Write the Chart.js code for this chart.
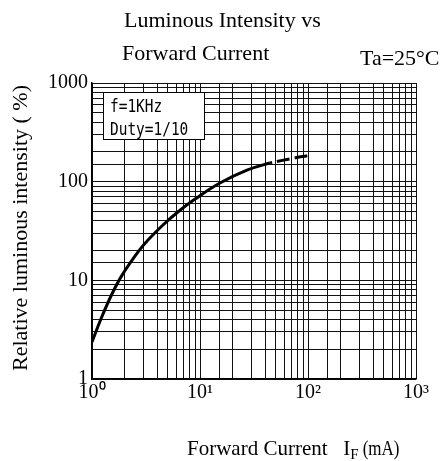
<!DOCTYPE html>
<html>
<head>
<meta charset="utf-8">
<script src="https://cdn.jsdelivr.net/npm/chart.js@4.4.1/dist/chart.umd.min.js"></script>
<style>
  body { margin: 0; background: #fff; }
  canvas { display: block; }
</style>
</head>
<body>
<canvas id="chart" width="448" height="461"></canvas>
<script>
// forward current (mA) vs relative luminous intensity (%)
const currents = [1, 1.21, 1.53, 1.9, 2.67, 3.3, 4.54, 6.4, 9.0, 15.3, 27.2, 44.5];
const intensity = [2.37, 4.06, 7.27, 11.3, 19.4, 25.6, 36.4, 50.4, 66.7, 96.9, 131, 155];
// dashed extension of the curve
const extCurrents = [44.5, 71, 100];
const extIntensity = [155, 172, 184];

const xLabels = {1: '10\u2070', 10: '10\u00b9', 100: '10\u00b2', 1000: '10\u00b3'};
const yLabels = {1: '1', 10: '10', 100: '100', 1000: '1000'};

const serif = "'Liberation Serif', 'Times New Roman', serif";

function toPoints(xs, ys) {
    return xs.map((x, i) => ({x: x, y: ys[i]}));
}

const textPlugin = {
    id: 'extraText',
    afterDraw(chart) {
        const ctx = chart.ctx;
        ctx.save();
        ctx.fillStyle = '#000';
        ctx.textBaseline = 'alphabetic';
        ctx.textAlign = 'left';

        ctx.font = '22px ' + serif;
        ctx.fillText('Luminous Intensity vs', 124, 27);
        ctx.fillText('Forward Current', 122, 60);
        ctx.fillText('Ta=25\u00b0C', 360, 65);

        // x axis title with subscript
        ctx.font = '21px ' + serif;
        let x = 187;
        const base = 455;
        const part1 = 'Forward Current   I';
        ctx.fillText(part1, x, base);
        x += ctx.measureText(part1).width;
        ctx.font = '15px ' + serif;
        ctx.fillText('F', x, base + 4);
        x += ctx.measureText('F').width + 4;
        ctx.save();
        ctx.translate(x, base);
        ctx.scale(0.85, 1);
        ctx.font = '20px ' + serif;
        ctx.fillText('(mA)', 0, 0);
        ctx.restore();

        // y axis title
        ctx.save();
        ctx.translate(27, 228);
        ctx.rotate(-Math.PI / 2);
        ctx.textAlign = 'center';
        ctx.font = '22px ' + serif;
        ctx.fillText('Relative luminous intensity ( %)', 0, 0);
        ctx.restore();

        // note box
        ctx.fillStyle = '#fff';
        ctx.fillRect(103, 92, 102, 48);
        ctx.strokeStyle = '#000';
        ctx.lineWidth = 1;
        ctx.strokeRect(103.5, 92.5, 101, 47);
        ctx.fillStyle = '#000';
        ctx.save();
        ctx.translate(110, 0);
        ctx.scale(0.85, 1);
        ctx.font = "17px 'DejaVu Sans Mono', monospace";
        ctx.fillText('f=1KHz', 0, 112);
        ctx.fillText('Duty=1/10', 0, 135);
        ctx.restore();

        ctx.restore();
    }
};

new Chart(document.getElementById('chart').getContext('2d'), {
    type: 'line',
    data: {
        datasets: [{
            data: toPoints(currents, intensity),
            borderColor: '#000',
            borderWidth: 3,
            pointRadius: 0,
            tension: 0.4,
            fill: false
        }, {
            data: toPoints(extCurrents, extIntensity),
            borderColor: '#000',
            borderWidth: 3,
            borderDash: [13, 5],
            borderDashOffset: 11,
            pointRadius: 0,
            tension: 0.4,
            fill: false
        }]
    },
    options: {
        responsive: false,
        animation: false,
        layout: {padding: {top: 83, right: 32, left: 0, bottom: 0}},
        plugins: {legend: {display: false}, tooltip: {enabled: false}},
        scales: {
            x: {
                type: 'logarithmic',
                min: 1,
                max: 1000,
                afterFit: s => { s.height = 82; },
                grid: {color: '#111', lineWidth: 1, drawTicks: false},
                border: {color: '#000', width: 1.5},
                ticks: {
                    autoSkip: false,
                    maxRotation: 0,
                    padding: 2,
                    color: '#000',
                    font: {family: serif, size: 20},
                    callback: v => xLabels[v] || ''
                }
            },
            y: {
                type: 'logarithmic',
                min: 1,
                max: 1000,
                afterFit: s => { s.width = 92; },
                grid: {color: '#111', lineWidth: 1, drawTicks: false},
                border: {color: '#000', width: 1.5},
                ticks: {
                    autoSkip: false,
                    padding: 4,
                    color: '#000',
                    font: {family: serif, size: 20},
                    callback: v => yLabels[v] || ''
                }
            }
        }
    },
    plugins: [textPlugin]
});
</script>
</body>
</html>
